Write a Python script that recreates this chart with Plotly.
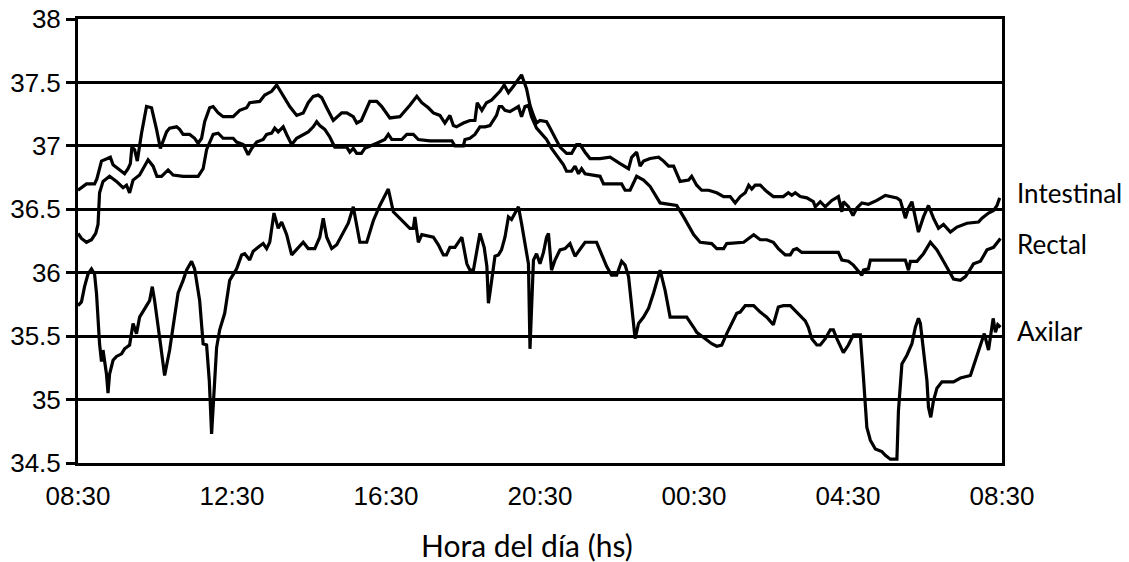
import plotly.graph_objects as go

# Time axis: hours elapsed since 08:30
tick_hours = [0, 4, 8, 12, 16, 20, 24]
tick_labels = ["08:30", "12:30", "16:30", "20:30", "00:30", "04:30", "08:30"]

intestinal_h = [
    0.00, 0.13, 0.22, 0.43, 0.49, 0.61, 0.74, 0.84, 0.91, 1.08, 1.21, 1.30, 1.36, 1.40, 1.47, 1.54,
    1.65, 1.78, 1.91, 2.04, 2.14, 2.30, 2.38, 2.56, 2.64, 2.73, 2.90, 3.03, 3.12, 3.21, 3.29, 3.42,
    3.51, 3.64, 3.77, 4.03, 4.20, 4.38, 4.46, 4.72, 4.85, 5.03, 5.16, 5.24, 5.50, 5.68, 5.85, 5.98,
    6.11, 6.24, 6.33, 6.46, 6.63, 6.85, 6.98, 7.15, 7.24, 7.36, 7.58, 7.76, 7.89, 8.10, 8.36, 8.62,
    8.80, 8.93, 9.10, 9.23, 9.40, 9.53, 9.66, 9.75, 9.83, 10.01, 10.18, 10.31, 10.37, 10.49, 10.61,
    10.74, 10.87, 10.96, 11.07, 11.18, 11.31, 11.44, 11.52, 11.65, 11.74, 11.83, 11.91, 12.00, 12.17,
    12.26, 12.39, 12.52, 12.69, 12.82, 12.95, 13.04, 13.17, 13.30, 13.56, 13.82, 14.08, 14.30, 14.38,
    14.51, 14.60, 14.69, 14.86, 15.08, 15.21, 15.34, 15.47, 15.64, 15.86, 15.94, 16.07, 16.20, 16.38,
    16.59, 16.77, 16.94, 17.07, 17.20, 17.33, 17.42, 17.50, 17.59, 17.72, 17.89, 18.06, 18.32, 18.45,
    18.54, 18.63, 18.76, 18.93, 19.10, 19.15, 19.28, 19.41, 19.58, 19.75, 19.84, 19.88, 20.01, 20.13,
    20.23, 20.36, 20.53, 20.75, 20.97, 21.27, 21.36, 21.49, 21.57, 21.66, 21.83, 21.96, 22.09, 22.22,
    22.35, 22.48, 22.66, 22.83, 23.09, 23.39, 23.48, 23.65, 23.78, 23.87, 23.94,
]
intestinal_t = [
    36.65, 36.68, 36.70, 36.70, 36.74, 36.88, 36.90, 36.91, 36.85, 36.81, 36.78, 36.82, 36.86, 36.99, 36.97, 36.88,
    37.10, 37.31, 37.30, 37.13, 36.98, 37.11, 37.14, 37.15, 37.13, 37.09, 37.09, 37.06, 37.02, 37.06, 37.19, 37.30,
    37.31, 37.26, 37.23, 37.23, 37.28, 37.30, 37.34, 37.35, 37.40, 37.43, 37.48, 37.44, 37.31, 37.24, 37.26, 37.34,
    37.39, 37.40, 37.38, 37.30, 37.20, 37.26, 37.26, 37.23, 37.18, 37.20, 37.35, 37.35, 37.31, 37.22, 37.23, 37.32,
    37.39, 37.34, 37.30, 37.26, 37.24, 37.18, 37.24, 37.16, 37.15, 37.18, 37.20, 37.20, 37.34, 37.28, 37.34,
    37.36, 37.40, 37.43, 37.48, 37.42, 37.47, 37.53, 37.56, 37.45, 37.32, 37.24, 37.18, 37.20, 37.19,
    37.14, 37.07, 36.99, 36.94, 36.94, 37.01, 37.01, 36.95, 36.90, 36.90, 36.91, 36.86, 36.82, 36.91,
    36.95, 36.84, 36.88, 36.90, 36.91, 36.88, 36.84, 36.84, 36.72, 36.73, 36.76, 36.69, 36.65, 36.65,
    36.63, 36.60, 36.60, 36.55, 36.60, 36.63, 36.69, 36.66, 36.69, 36.69, 36.64, 36.60, 36.60, 36.63,
    36.61, 36.63, 36.60, 36.59, 36.56, 36.52, 36.56, 36.52, 36.57, 36.60, 36.48, 36.56, 36.52, 36.45,
    36.51, 36.55, 36.54, 36.57, 36.61, 36.59, 36.57, 36.43, 36.51, 36.56, 36.32, 36.44, 36.53, 36.43,
    36.35, 36.38, 36.32, 36.36, 36.39, 36.40, 36.43, 36.47, 36.49, 36.53, 36.59,
]

rectal_h = [
    0.00, 0.09, 0.22, 0.35, 0.46, 0.52, 0.56, 0.65, 0.82, 1.00, 1.17, 1.26, 1.34, 1.43, 1.60, 1.82,
    1.95, 2.05, 2.17, 2.34, 2.47, 2.73, 3.12, 3.25, 3.34, 3.51, 3.64, 3.77, 4.03, 4.12, 4.29, 4.42,
    4.51, 4.64, 4.81, 4.90, 5.03, 5.11, 5.20, 5.33, 5.42, 5.55, 5.68, 5.85, 5.98, 6.11, 6.20, 6.28,
    6.41, 6.54, 6.67, 6.98, 7.06, 7.15, 7.24, 7.36, 7.45, 7.76, 7.97, 8.06, 8.15, 8.41, 8.54, 8.71,
    8.84, 9.14, 9.71, 9.79, 10.01, 10.05, 10.18, 10.31, 10.44, 10.57, 10.70, 10.87, 10.94, 11.01,
    11.09, 11.22, 11.35, 11.44, 11.52, 11.61, 11.70, 11.78, 11.91, 12.04, 12.17, 12.30, 12.39, 12.52,
    12.61, 12.69, 12.82, 12.91, 13.00, 13.08, 13.17, 13.56, 13.65, 14.12, 14.21, 14.34, 14.51, 14.69,
    14.86, 15.12, 15.55, 15.73, 15.99, 16.16, 16.46, 16.59, 16.77, 16.85, 17.29, 17.55, 17.72, 17.89,
    18.06, 18.19, 18.37, 18.50, 18.58, 18.67, 18.80, 18.93, 19.75, 19.84, 20.01, 20.14, 20.27, 20.36,
    20.40, 20.53, 20.58, 20.92, 21.49, 21.57, 21.62, 21.79, 21.96, 22.14, 22.31, 22.48, 22.61, 22.74,
    22.92, 23.05, 23.18, 23.26, 23.44, 23.61, 23.78, 23.96,
]
rectal_t = [
    36.31, 36.27, 36.24, 36.26, 36.31, 36.38, 36.63, 36.72, 36.76, 36.72, 36.67, 36.69, 36.63, 36.73, 36.77, 36.89,
    36.84, 36.76, 36.76, 36.81, 36.77, 36.76, 36.76, 36.82, 36.97, 37.09, 37.10, 37.06, 37.06, 37.03, 37.01, 36.93,
    36.98, 37.03, 37.05, 37.09, 37.10, 37.14, 37.11, 37.15, 37.09, 37.01, 37.06, 37.09, 37.11, 37.15, 37.19, 37.16,
    37.13, 37.07, 36.99, 36.99, 36.95, 36.98, 36.94, 36.94, 36.98, 37.02, 37.05, 37.09, 37.05, 37.05, 37.09, 37.09,
    37.05, 37.04, 37.04, 37.00, 37.00, 37.05, 37.06, 37.09, 37.15, 37.15, 37.16, 37.24, 37.31, 37.31,
    37.28, 37.27, 37.29, 37.31, 37.23, 37.31, 37.32, 37.23, 37.14, 37.09, 37.05, 36.98, 36.94, 36.88,
    36.85, 36.80, 36.80, 36.84, 36.78, 36.82, 36.78, 36.76, 36.70, 36.70, 36.65, 36.65, 36.76, 36.73,
    36.68, 36.55, 36.53, 36.44, 36.30, 36.24, 36.23, 36.19, 36.19, 36.23, 36.24, 36.30, 36.26, 36.26,
    36.24, 36.19, 36.14, 36.14, 36.18, 36.19, 36.16, 36.16, 36.16, 36.10, 36.09, 36.06, 36.01, 35.98,
    36.02, 36.03, 36.10, 36.10, 36.10, 36.02, 36.09, 36.09, 36.15, 36.24, 36.18, 36.09, 36.02, 35.95,
    35.94, 35.97, 36.03, 36.07, 36.09, 36.18, 36.20, 36.27,
]

axilar_h = [
    0.00, 0.09, 0.17, 0.26, 0.35, 0.43, 0.48, 0.52, 0.56, 0.61, 0.65, 0.74, 0.78, 0.82, 0.91, 1.00,
    1.13, 1.21, 1.34, 1.43, 1.52, 1.60, 1.73, 1.86, 1.93, 1.99, 2.12, 2.25, 2.38, 2.47, 2.60, 2.73,
    2.82, 2.95, 3.03, 3.16, 3.25, 3.34, 3.41, 3.47, 3.53, 3.60, 3.68, 3.81, 3.94, 4.12, 4.25, 4.33,
    4.46, 4.55, 4.72, 4.81, 4.90, 4.98, 5.09, 5.20, 5.29, 5.42, 5.55, 5.68, 5.85, 5.98, 6.15, 6.28,
    6.37, 6.46, 6.59, 6.72, 6.89, 7.02, 7.15, 7.32, 7.50, 7.67, 7.84, 8.06, 8.19, 8.36, 8.49, 8.62,
    8.71, 8.75, 8.84, 8.93, 9.23, 9.36, 9.49, 9.57, 9.66, 9.79, 9.97, 10.10, 10.18, 10.27, 10.44,
    10.55, 10.62, 10.66, 10.70, 10.83, 10.92, 11.00, 11.09, 11.18, 11.26, 11.35, 11.44, 11.52, 11.61,
    11.70, 11.74, 11.83, 11.91, 12.00, 12.09, 12.17, 12.22, 12.30, 12.39, 12.52, 12.65, 12.78, 12.91,
    13.04, 13.17, 13.47, 13.60, 13.73, 13.86, 13.99, 14.12, 14.21, 14.30, 14.38, 14.47, 14.56, 14.69,
    14.82, 14.95, 15.12, 15.25, 15.38, 15.81, 15.99, 16.07, 16.25, 16.46, 16.59, 16.72, 16.85, 16.98,
    17.11, 17.20, 17.33, 17.55, 17.72, 17.89, 18.06, 18.19, 18.32, 18.50, 18.63, 18.76, 18.89, 18.97,
    19.06, 19.19, 19.28, 19.41, 19.54, 19.62, 19.71, 19.88, 20.01, 20.14, 20.32, 20.40, 20.49, 20.58,
    20.71, 20.88, 20.97, 21.10, 21.27, 21.31, 21.40, 21.53, 21.66, 21.75, 21.83, 21.88, 21.96, 22.05,
    22.09, 22.15, 22.22, 22.31, 22.44, 22.74, 22.92, 23.18, 23.31, 23.44, 23.54, 23.65, 23.77, 23.83,
    23.89, 23.96,
]
axilar_t = [
    35.74, 35.77, 35.89, 35.99, 36.03, 35.99, 35.84, 35.63, 35.44, 35.30, 35.39, 35.20, 35.05, 35.20, 35.31, 35.34,
    35.36, 35.40, 35.43, 35.60, 35.52, 35.65, 35.72, 35.78, 35.89, 35.78, 35.49, 35.19, 35.39, 35.57, 35.84, 35.94,
    36.02, 36.09, 36.03, 35.78, 35.44, 35.43, 35.15, 34.73, 35.05, 35.41, 35.55, 35.68, 35.94, 36.03, 36.14, 36.15,
    36.10, 36.17, 36.21, 36.23, 36.19, 36.24, 36.47, 36.35, 36.40, 36.30, 36.14, 36.18, 36.24, 36.19, 36.19, 36.28,
    36.43, 36.28, 36.19, 36.22, 36.31, 36.39, 36.52, 36.24, 36.24, 36.41, 36.53, 36.66, 36.48, 36.43, 36.39, 36.35,
    36.35, 36.44, 36.24, 36.30, 36.28, 36.22, 36.14, 36.14, 36.20, 36.20, 36.28, 36.07, 36.02, 36.02, 36.31,
    36.20, 36.05, 35.76, 35.84, 36.13, 36.14, 36.18, 36.28, 36.44, 36.42, 36.47, 36.52, 36.39, 36.23,
    36.07, 35.40, 36.10, 36.15, 36.07, 36.16, 36.28, 36.31, 36.02, 36.10, 36.18, 36.19, 36.23, 36.13,
    36.18, 36.24, 36.24, 36.15, 36.05, 35.98, 35.98, 36.09, 36.06, 35.97, 35.73, 35.48, 35.60, 35.65,
    35.72, 35.84, 36.02, 35.86, 35.65, 35.65, 35.57, 35.53, 35.49, 35.44, 35.42, 35.43, 35.52, 35.60,
    35.68, 35.69, 35.74, 35.74, 35.69, 35.65, 35.59, 35.73, 35.74, 35.74, 35.70, 35.66, 35.62, 35.57,
    35.48, 35.43, 35.43, 35.48, 35.55, 35.55, 35.48, 35.37, 35.43, 35.51, 35.51, 35.18, 34.78, 34.68,
    34.61, 34.59, 34.56, 34.53, 34.53, 34.91, 35.28, 35.35, 35.44, 35.57, 35.64, 35.60, 35.39, 35.15,
    34.94, 34.86, 34.99, 35.09, 35.14, 35.14, 35.17, 35.19, 35.31, 35.43, 35.52, 35.39, 35.64, 35.53,
    35.59, 35.57,
]

series = [
    ("Intestinal", intestinal_h, intestinal_t, 36.63),
    ("Rectal", rectal_h, rectal_t, 36.23),
    ("Axilar", axilar_h, axilar_t, 35.54),
]

fig = go.Figure()
for name, hours, temps, _ in series:
    fig.add_trace(go.Scatter(
        x=hours, y=temps, mode="lines", name=name,
        line=dict(color="black", width=3.2),
        showlegend=False,
    ))

# Series names placed to the right of the plot frame
for name, _, _, label_y in series:
    fig.add_annotation(
        x=1.014, xref="paper", y=label_y, yref="y",
        text=name, showarrow=False, xanchor="left", yanchor="middle",
        font=dict(family="Lato", size=26, color="black"),
    )

# Horizontal-axis caption below the tick labels
fig.add_annotation(
    x=0.486, xref="paper", y=-0.184, yref="paper",
    text="Hora del día (hs)", showarrow=False, xanchor="center", yanchor="middle",
    font=dict(family="Lato", size=30, color="black"),
)

fig.update_layout(
    width=1129, height=562,
    margin=dict(l=78, r=127, t=19, b=99),
    paper_bgcolor="white", plot_bgcolor="white",
    font=dict(family="Liberation Sans, Arial", size=26, color="black"),
)
fig.update_xaxes(
    range=[0, 24], tickvals=tick_hours, ticktext=tick_labels,
    showgrid=False, zeroline=False, automargin=False,
    showline=True, linecolor="black", linewidth=3, mirror=True,
    ticks="", tickfont=dict(size=26), ticklabelstandoff=8,
)
fig.update_yaxes(
    range=[34.5, 38], dtick=0.5, tick0=34.5, automargin=False,
    showgrid=True, gridcolor="black", gridwidth=2.5, zeroline=False,
    showline=True, linecolor="black", linewidth=3, mirror=True,
    ticks="outside", ticklen=9, tickwidth=2.5, tickcolor="black",
    tickfont=dict(size=26),
)

fig.write_html("out.html")
